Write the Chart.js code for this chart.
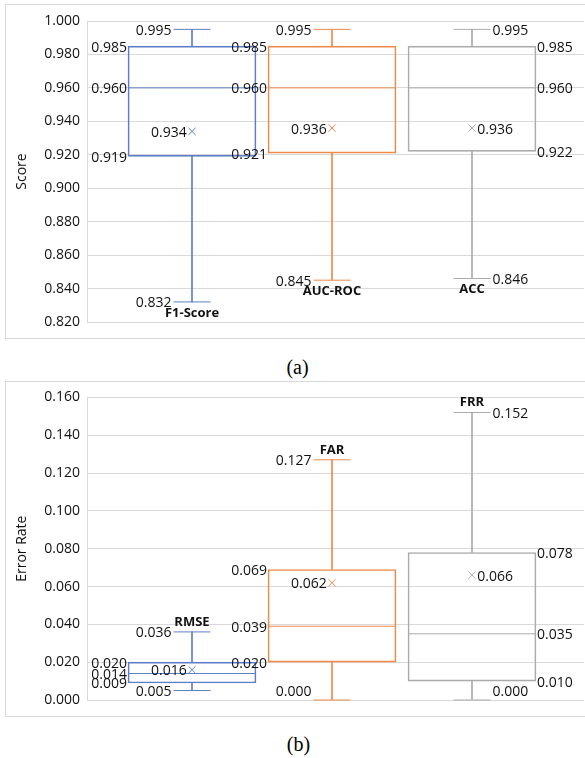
<!DOCTYPE html>
<html><head><meta charset="utf-8">
<script src="https://cdn.jsdelivr.net/npm/chart.js@4/dist/chart.umd.min.js"></script>
<style>
html,body{margin:0;padding:0;background:#fff;overflow:hidden;width:585px;height:758px;position:relative;}
.panel{position:absolute;left:5px;width:600px;border:1px solid #d9d9d9;background:#fff;}
#wa{top:4px;height:333px;}
#wb{top:381px;height:334px;}
.cap{position:absolute;width:585px;text-align:center;font-family:"Liberation Serif","Times New Roman",serif;font-size:20px;line-height:24px;color:#000;}
canvas{display:block;}
</style></head><body>
<div class="panel" id="wa"><canvas id="ca" width="600" height="333"></canvas></div>
<div class="cap" style="top:355px;left:5px;">(a)</div>
<div class="panel" id="wb"><canvas id="cb" width="600" height="334"></canvas></div>
<div class="cap" style="top:732px;left:6px;">(b)</div>
<script>
// ---- Panel (a) data ----
const metricsA = ['F1-Score', 'AUC-ROC', 'ACC'];
const minA    = [0.832, 0.845, 0.846];
const q1A     = [0.919, 0.921, 0.922];
const medianA = [0.960, 0.960, 0.960];
const q3A     = [0.985, 0.985, 0.985];
const maxA    = [0.995, 0.995, 0.995];
const meanA   = [0.934, 0.936, 0.936];
const ticksA  = [0.820, 0.840, 0.860, 0.880, 0.900, 0.920, 0.940, 0.960, 0.980, 1.000];

// ---- Panel (b) data ----
const metricsB = ['RMSE', 'FAR', 'FRR'];
const minB    = [0.005, 0.000, 0.000];
const q1B     = [0.009, 0.020, 0.010];
const medianB = [0.014, 0.039, 0.035];
const q3B     = [0.020, 0.069, 0.078];
const maxB    = [0.036, 0.127, 0.152];
const meanB   = [0.016, 0.062, 0.066];
const ticksB  = [0.000, 0.020, 0.040, 0.060, 0.080, 0.100, 0.120, 0.140, 0.160];

const COLORS = ['#5B7FC7', '#EE8A4A', '#ABABAB'];
const BOX_W = 128, CAP_HALF = 18.5, MARK_R = 5;
const FONT = '"Open Sans", "DejaVu Sans", sans-serif';

Chart.defaults.font.family = FONT;
Chart.defaults.color = '#111';

const boxLabels = {
  id: 'boxLabels',
  afterDatasetsDraw(chart, args, o) {
    const {ctx, chartArea} = chart;
    const xs = chart.scales.x, ys = chart.scales.y;
    const s = o.stats;
    const clampY = y => Math.min(Math.max(y, chartArea.top + 8), chartArea.bottom - 8);
    ctx.save();
    ctx.textBaseline = 'middle';
    ctx.fillStyle = '#111';
    ctx.font = '14px ' + FONT;
    s.names.forEach((name, i) => {
      const cx = xs.getPixelForValue(i + 1);
      const left = o.sides[i] === 'left';
      ctx.textAlign = left ? 'right' : 'left';
      const put = (val, half, gap) => {
        const x = left ? cx - half - gap : cx + half + gap;
        ctx.fillText(val.toFixed(3), x, clampY(ys.getPixelForValue(val) + 1.5));
      };
      put(s.max[i], CAP_HALF, 2);
      put(s.q3[i], BOX_W / 2, 1);
      put(s.median[i], BOX_W / 2, 1);
      put(s.q1[i], BOX_W / 2, 1);
      put(s.min[i], CAP_HALF, 2);
      put(s.mean[i], MARK_R * 0.75, 1.5);
    });
    ctx.font = 'bold 13px ' + FONT;
    ctx.textAlign = 'center';
    s.names.forEach((name, i) => {
      const cx = xs.getPixelForValue(i + 1);
      const y = o.namePos === 'below'
        ? ys.getPixelForValue(s.min[i]) + 11
        : ys.getPixelForValue(s.max[i]) - 10;
      ctx.fillText(name, cx, y);
    });
    ctx.restore();
  }
};

function makeBoxChart(id, s, ticks, title, sides, namePos, pad) {
  const pts = arr => arr.map((v, i) => ({x: i + 1, y: v}));
  const rng = (a, b) => a.map((v, i) => ({x: i + 1, y: [v, b[i]]}));
  const common = {grouped: false, borderSkipped: false, clip: false};
  const datasets = [
    Object.assign({type: 'bar', label: 'box', data: rng(s.q1, s.q3), backgroundColor: 'rgba(255,255,255,0)',
      borderColor: COLORS, borderWidth: 1, barThickness: BOX_W}, common),
    Object.assign({type: 'bar', label: 'upper whisker', data: rng(s.q3, s.max), backgroundColor: COLORS,
      borderWidth: 0, barThickness: 1}, common),
    Object.assign({type: 'bar', label: 'lower whisker', data: rng(s.min, s.q1), backgroundColor: COLORS,
      borderWidth: 0, barThickness: 1}, common),
    {type: 'scatter', label: 'max', data: pts(s.max), pointStyle: 'line', pointRadius: CAP_HALF,
      pointBorderColor: COLORS, pointBorderWidth: 1, clip: false},
    {type: 'scatter', label: 'min', data: pts(s.min), pointStyle: 'line', pointRadius: CAP_HALF,
      pointBorderColor: COLORS, pointBorderWidth: 1, clip: false},
    {type: 'scatter', label: 'median', data: pts(s.median), pointStyle: 'line', pointRadius: BOX_W / 2,
      pointBorderColor: COLORS, pointBorderWidth: 1, clip: false},
    {type: 'scatter', label: 'mean', data: pts(s.mean), pointStyle: 'crossRot', pointRadius: MARK_R,
      pointBorderColor: COLORS, pointBorderWidth: 1, clip: false}
  ];
  return new Chart(document.getElementById(id), {
    type: 'bar',
    data: {datasets},
    plugins: [boxLabels],
    options: {
      responsive: false,
      animation: false,
      devicePixelRatio: 1,
      events: [],
      layout: {padding: pad, autoPadding: false},
      plugins: {
        legend: {display: false},
        tooltip: {enabled: false},
        boxLabels: {stats: s, sides, namePos}
      },
      scales: {
        x: {type: 'linear', display: false, offset: false, min: 0.25, max: 3.8},
        y: {
          type: 'linear',
          min: ticks[0], max: ticks[ticks.length - 1],
          afterBuildTicks: sc => { sc.ticks = ticks.map(v => ({value: v})); },
          afterFit: sc => { sc.width = 77; },
          grid: {color: '#d9d9d9', lineWidth: 1, drawTicks: false},
          border: {display: true, color: '#d9d9d9'},
          ticks: {padding: 7, color: '#111', font: {size: 14}, callback: v => Number(v).toFixed(3)},
          title: {display: true, text: title, color: '#111', font: {size: 14}, padding: {top: 4, bottom: 4}}
        }
      }
    }
  });
}

makeBoxChart('ca',
  {names: metricsA, min: minA, q1: q1A, median: medianA, q3: q3A, max: maxA, mean: meanA},
  ticksA, 'Score', ['left', 'left', 'right'], 'below',
  {left: 4, top: 16, right: 22, bottom: 16});

makeBoxChart('cb',
  {names: metricsB, min: minB, q1: q1B, median: medianB, q3: q3B, max: maxB, mean: meanB},
  ticksB, 'Error Rate', ['left', 'left', 'right'], 'above',
  {left: 4, top: 15, right: 22, bottom: 16});
</script>
</body></html>
